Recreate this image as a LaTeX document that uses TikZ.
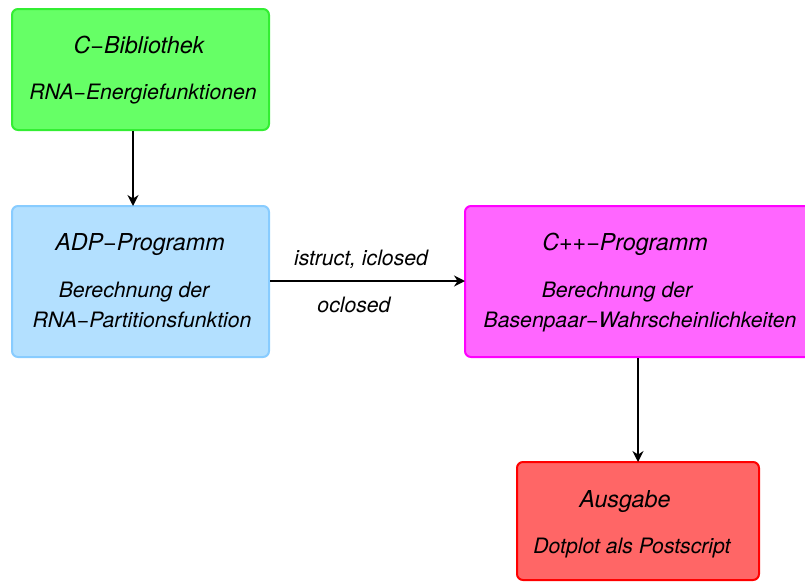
\documentclass[tikz,border=0pt]{standalone}
\usepackage{fontspec}
\setmainfont{TeX Gyre Heros}
\usetikzlibrary{arrows.meta}
\definecolor{gfill}{HTML}{66FF66}
\definecolor{gdraw}{HTML}{33EE33}
\definecolor{bfill}{HTML}{B3E0FF}
\definecolor{bdraw}{HTML}{88CCFF}
\definecolor{mfill}{HTML}{FF66FF}
\definecolor{mdraw}{HTML}{FF00FF}
\definecolor{rfill}{HTML}{FF6666}
\definecolor{rdraw}{HTML}{FF0000}
\tikzset{
  boxstyle/.style={rounded corners=6pt, line width=2pt},
  ttl/.style={anchor=base, inner sep=0pt, font=\fontsize{23.3}{28}\selectfont\itshape},
  sub/.style={anchor=base, inner sep=0pt, font=\fontsize{21.2}{26}\selectfont\itshape},
  conn/.style={line width=2.8pt, -{Stealth[length=11pt,width=11pt]}}
}
\begin{document}
\begin{tikzpicture}[x=1pt,y=-1pt]
\useasboundingbox (0,0) rectangle (805,581);
\clip (0,0) rectangle (805,581);
% boxes
\draw[boxstyle, fill=gfill, draw=gdraw] (12,9) rectangle (269,130);
\draw[boxstyle, fill=bfill, draw=bdraw] (12,206) rectangle (269,357);
\draw[boxstyle, fill=mfill, draw=mdraw] (465,206) rectangle (815,357);
\draw[boxstyle, fill=rfill, draw=rdraw] (517,462) rectangle (759,580);
% anchors
\coordinate (gbot) at (133,131);
\coordinate (btop) at (133,206);
\coordinate (bright) at (270,281);
\coordinate (mleft) at (465,281);
\coordinate (mbot) at (638,358);
\coordinate (rtop) at (638,462);
% texts
\node[ttl] (t1) at (139,53) {C−Bibliothek};
\node[sub] (s1) at (143,99) {RNA−Energiefunktionen};
\node[ttl] (t2) at (140,250) {ADP−Programm};
\node[sub] (s2a) at (134,297) {Berechnung der};
\node[sub] (s2b) at (142,327) {RNA−Partitionsfunktion};
\node[ttl] (t3) at (625,250) {C++−Programm};
\node[sub] (s3a) at (617,297) {Berechnung der};
\node[sub] (s3b) at (640,327) {Basenpaar−Wahrscheinlichkeiten};
\node[ttl] (t4) at (625,507) {Ausgabe};
\node[sub] (s4) at (632,553) {Dotplot als Postscript};
\node[sub] (l1) at (361,265) {istruct, iclosed};
\node[sub] (l2) at (354,312) {oclosed};
% connectors
\draw[conn] (gbot) -- (btop);
\draw[conn] (bright) -- (mleft);
\draw[conn] (mbot) -- (rtop);
\end{tikzpicture}
\end{document}
